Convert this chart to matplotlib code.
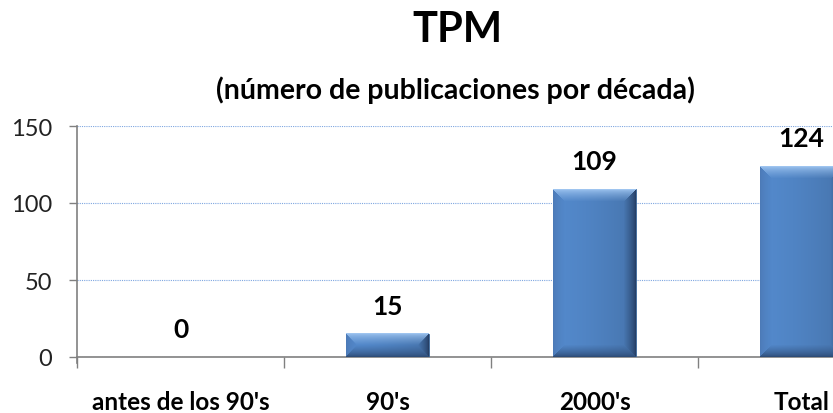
import numpy as np
import matplotlib
matplotlib.use("Agg")
import matplotlib.pyplot as plt

categories = ["antes de los 90's", "90's", "2000's", "Total"]
values = [0, 15, 109, 124]
yticks = [0, 50, 100, 150]
title = "TPM"
subtitle = "(número de publicaciones por década)"

FONT = ["Lato", "DejaVu Sans"]
plt.rcParams["font.family"] = FONT

W, H = 833, 414
fig = plt.figure(figsize=(W / 100, H / 100), dpi=100)
left, right = 77, 905
bottom, top = 358, 127
ax = fig.add_axes([left / W, (H - bottom) / H, (right - left) / W, (bottom - top) / H])

x = np.arange(len(categories))
bw = 0.4
bars = ax.bar(x, values, width=bw, color="#4F81BD", edgecolor="#3A6596", linewidth=0.6, zorder=3)

ax.set_xlim(-0.5, len(categories) - 0.5)
ax.set_ylim(0, 150)
ax.set_yticks(yticks)
ax.set_yticklabels([str(v) for v in yticks], fontsize=17, color="#222222")
ax.set_xticks(x)
ax.set_xticklabels(categories, fontsize=17.5, fontweight="bold")
ax.tick_params(axis="x", length=0, pad=24)
ax.set_xticks(np.arange(-0.5, len(categories), 1.0), minor=True)
ax.tick_params(axis="x", which="minor", length=8, color="#808080", width=1)
ax.tick_params(axis="y", length=6, color="#808080", width=1, pad=12)

ax.grid(axis="y", color="#7EA6E0", linestyle=(0, (1, 1)), linewidth=0.8, zorder=0)
for s in ["top", "right"]:
    ax.spines[s].set_visible(False)
for s in ["left", "bottom"]:
    ax.spines[s].set_color("#808080")
    ax.spines[s].set_linewidth(1.2)
ax.spines["left"].set_bounds(-4, 150)
ax.set_facecolor("none")

# bevel shading per bar
fig.canvas.draw()
base = np.array([0x50, 0x84, 0xC4]) / 255
top_c = np.array([0.62, 0.77, 0.94])
bot_c = np.array([0.18, 0.30, 0.47])
lef_c = np.array([0.30, 0.48, 0.72])
rig_c = np.array([0.15, 0.25, 0.40])
for rect, v in zip(bars, values):
    x0, y0 = rect.get_x(), rect.get_y()
    w, h = rect.get_width(), rect.get_height()
    if v > 0:
        p0 = ax.transData.transform((x0, y0))
        p1 = ax.transData.transform((x0 + w, y0 + h))
        wpx = int(round(p1[0] - p0[0]))
        hpx = int(round(p1[1] - p0[1]))
        b = max(2, min(12, hpx // 2))
        yy, xx = np.mgrid[0:hpx, 0:wpx]
        dt = yy
        db = hpx - 1 - yy
        dl = xx
        dr = wpx - 1 - xx
        dmin = np.minimum(np.minimum(dt, db), np.minimum(dl, dr))
        g = 1.04 - 0.16 * (xx / max(wpx - 1, 1)) ** 1.5
        img = base[None, None, :] * g[..., None]
        t = np.clip(dmin / b, 0, 1)[..., None]
        edge = np.zeros_like(img)
        m_top = dt == dmin
        m_bot = (db == dmin) & ~m_top
        m_lef = (dl == dmin) & ~m_top & ~m_bot
        m_rig = ~m_top & ~m_bot & ~m_lef
        edge[m_top] = top_c
        edge[m_bot] = bot_c
        edge[m_lef] = lef_c
        edge[m_rig] = rig_c
        inner = dmin >= b
        tt = t ** 0.7
        img = np.where(inner[..., None], img, edge * (1 - tt) + img * tt)
        img = np.clip(img, 0, 1)
        ax.imshow(img, extent=(x0, x0 + w, y0, y0 + h), aspect="auto", zorder=4, interpolation="bilinear")
    ax.text(x0 + w / 2, v + 13, str(v), ha="center", va="baseline", fontsize=19, fontweight="bold", zorder=5)

ax.set_xlim(-0.5, len(categories) - 0.5)
ax.set_ylim(0, 150)

fig.text(457 / W, 1 - 30 / H, title, ha="center", va="center", fontsize=30, fontweight="bold")
fig.text(455 / W, 1 - 90 / H, subtitle, ha="center", va="center", fontsize=20.5, fontweight="bold")

fig.savefig("out.png", dpi=100)
